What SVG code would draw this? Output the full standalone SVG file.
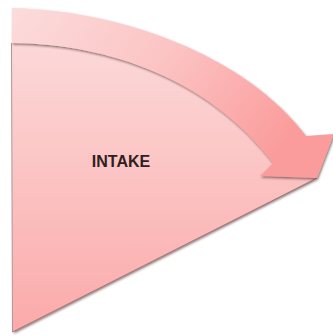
<svg xmlns="http://www.w3.org/2000/svg" width="333" height="336" viewBox="0 0 333 336">
  <style>
    .lbl { font-family: "Liberation Sans", Arial, sans-serif; font-size: 16px; font-weight: bold; fill: #2e2020; }
    .edge { fill: none; stroke: #7a4444; stroke-opacity: 0.55; stroke-width: 1; }
  </style>
  <defs>
    <linearGradient id="gSlice" x1="0" y1="0" x2="0" y2="1">
      <stop offset="0" stop-color="#fcd8d8"/>
      <stop offset="1" stop-color="#fbaaaa"/>
    </linearGradient>
    <linearGradient id="gBand" x1="0" y1="0" x2="1" y2="0.4">
      <stop offset="0" stop-color="#fcdcdc"/>
      <stop offset="0.5" stop-color="#fcc4c4"/>
      <stop offset="1" stop-color="#fb9c9c"/>
    </linearGradient>
    <filter id="sh" x="-10%" y="-10%" width="130%" height="130%">
      <feDropShadow dx="1" dy="1.5" stdDeviation="1.2" flood-color="#3a1a1a" flood-opacity="0.6"/>
    </filter>
  </defs>
  <rect width="333" height="336" fill="#ffffff"/>
  <g id="slice">
    <path filter="url(#sh)" d="M12,43 C110,44 210,80 273,163 L300,177 L317,178 L13,332 Z" fill="url(#gSlice)"/>
    <path class="edge" d="M11.5,43 L12.5,332 L317,178"/>
  </g>
  <g id="connectors">
    <path id="arrow" filter="url(#sh)" d="M12,8 C120,10 245,55 306,136 L334,134 L317,178 L260,176 L273,163 C210,80 110,44 12,43 Z" fill="url(#gBand)"/>
  </g>
  <g id="label">
    <text class="lbl" x="121" y="167" text-anchor="middle">INTAKE</text>
  </g>
</svg>
